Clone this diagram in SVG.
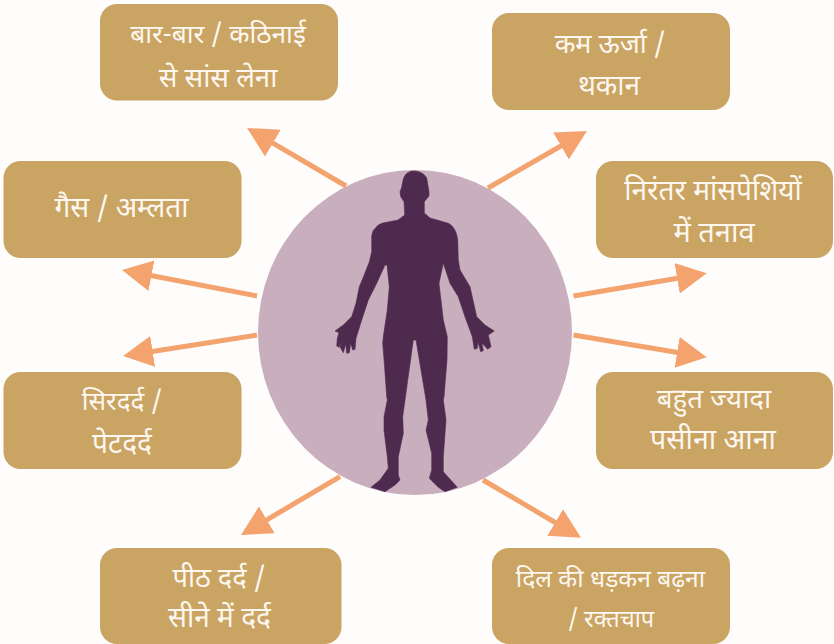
<svg xmlns="http://www.w3.org/2000/svg" width="834" height="644" viewBox="0 0 834 644">
<style>
.box{fill:#C9A463}
.t{font-family:"Noto Sans Devanagari","Noto Serif Devanagari","Lohit Devanagari","Noto Sans","Liberation Serif",sans-serif;font-size:28px;fill:#FDF7EF;text-anchor:middle}
.arrow{stroke:#F4A26E;stroke-width:5;fill:none;marker-end:url(#h)}
</style>
<defs><marker id="h" markerUnits="userSpaceOnUse" markerWidth="32" markerHeight="32" refX="2" refY="15.500" orient="auto"><path d="M0 0L30 15.500L0 31Z" fill="#F4A26E"/></marker></defs>
<rect width="834" height="644" fill="#FEFDFB"/>
<g id="connectors">
<line class="arrow" x1="346" y1="186" x2="271.200" y2="142.100"/>
<line class="arrow" x1="488" y1="188" x2="562.700" y2="145"/>
<line class="arrow" x1="573.500" y1="296" x2="679.100" y2="278"/>
<line class="arrow" x1="573.500" y1="335" x2="679.100" y2="352.700"/>
<line class="arrow" x1="483" y1="480" x2="556.900" y2="523.500"/>
<line class="arrow" x1="340" y1="476.700" x2="265.100" y2="520.800"/>
<line class="arrow" x1="257" y1="335" x2="150.700" y2="351.700"/>
<line class="arrow" x1="257" y1="296" x2="149.500" y2="275.300"/>
</g>
<g id="body-node">
<ellipse cx="415" cy="332.500" rx="157" ry="162.500" fill="#C9AEBD"/>
<path fill="#4F2A4F" stroke="#4F2A4F" stroke-width="0.6" stroke-linejoin="round" d="M413.300 171C407 171 403.500 176 402.700 182L401.500 188L400 191.700L400.700 196.700L404 201.700L404.700 215L398 220L386.700 222.300C381 223 378 225 376.700 226.700C373 230 372 233 371.700 236.700L371.700 251.700L369.300 262L363 278L359.300 286.700L356 303.300L351.700 316.700L343.300 325L335 331L339 332.700L337.300 338.300L336.700 346L339 347.300L341 342L340 347L343.300 352.700L345.700 344L346.700 353.300L349.300 352.700L350.700 343.300L352.700 350L355 349.300L356 338.300L361.700 320L368.300 300L376.700 283.300L385 265L387 265L389.300 286.700L387.300 310L383.300 336.700L382.700 343.300L384.300 363L386.700 396.700L387.300 400L384 416.700L384 430L387.300 456.700L388.300 468.300L380 480L371 487.300L385 491.700L395 485L400 480L398.300 475L398.300 456.700L403.300 433.300L402.700 416.700L405 400L413.300 340L416 340L426 400L428.300 420L426 430L431.700 453.300L431.700 470L429.300 478.300L438.300 487.300L445 491.700L457.300 487.300L443.300 471.700L443.300 456.700L446 420L443.300 400L444 397L447 360L447.300 336.700L443.300 320L439 283.300L443.300 263.300L450 283.300L458.300 296.700L465 316.700L472.300 336.700L474.300 349.300L477.300 348.300L478 342L480.700 351.700L483.300 350.700L482 343L487.700 349.300L491 346.700L488.300 335L494.300 331L485 325L476.700 316.700L470 286.700L460 270L458.300 260L457.700 240C457 233 454 226 448.300 223.300L430 218L424.300 213L424.300 201.700L429 196L429 191.700L426.700 178C424.500 174 420 171 413.300 171Z"/>
</g>
<g id="n1"><rect class="box" x="100" y="4" width="238" height="96.500" rx="17"/><text class="t" style="font-size:26.300px" x="218" y="43">बार-बार / कठिनाई</text><text class="t" style="font-size:27.600px" x="218" y="87">से सांस लेना</text></g>
<g id="n2"><rect class="box" x="492" y="13" width="238" height="97" rx="17"/><text class="t" style="font-size:27px" x="610" y="53">कम ऊर्जा /</text><text class="t" x="609" y="95">थकान</text></g>
<g id="n3"><rect class="box" x="3.500" y="161" width="238" height="97" rx="17"/><text class="t" x="121.500" y="217">गैस / अम्लता</text></g>
<g id="n4"><rect class="box" x="596" y="161" width="237" height="97" rx="17"/><text class="t" x="713" y="200">निरंतर मांसपेशियों</text><text class="t" style="font-size:29px" x="714" y="242">में तनाव</text></g>
<g id="n5"><rect class="box" x="3.500" y="372" width="238" height="97" rx="17"/><text class="t" style="font-size:26px" x="122" y="410">सिरदर्द /</text><text class="t" x="122" y="453">पेटदर्द</text></g>
<g id="n6"><rect class="box" x="596" y="372" width="237" height="97" rx="17"/><text class="t" style="font-size:27.700px" x="714" y="408">बहुत ज्यादा</text><text class="t" style="font-size:28.500px" x="713" y="449">पसीना आना</text></g>
<g id="n7"><rect class="box" x="100" y="548" width="241.500" height="96" rx="17"/><text class="t" style="font-size:27.200px" x="219" y="587">पीठ दर्द /</text><text class="t" x="219.500" y="627">सीने में दर्द</text></g>
<g id="n8"><rect class="box" x="492" y="548" width="238" height="96" rx="17"/><text class="t" style="font-size:24.600px" x="610.500" y="587">दिल की धड़कन बढ़ना</text><text class="t" style="font-size:23.500px" x="611" y="627">/ रक्तचाप</text></g>
</svg>
